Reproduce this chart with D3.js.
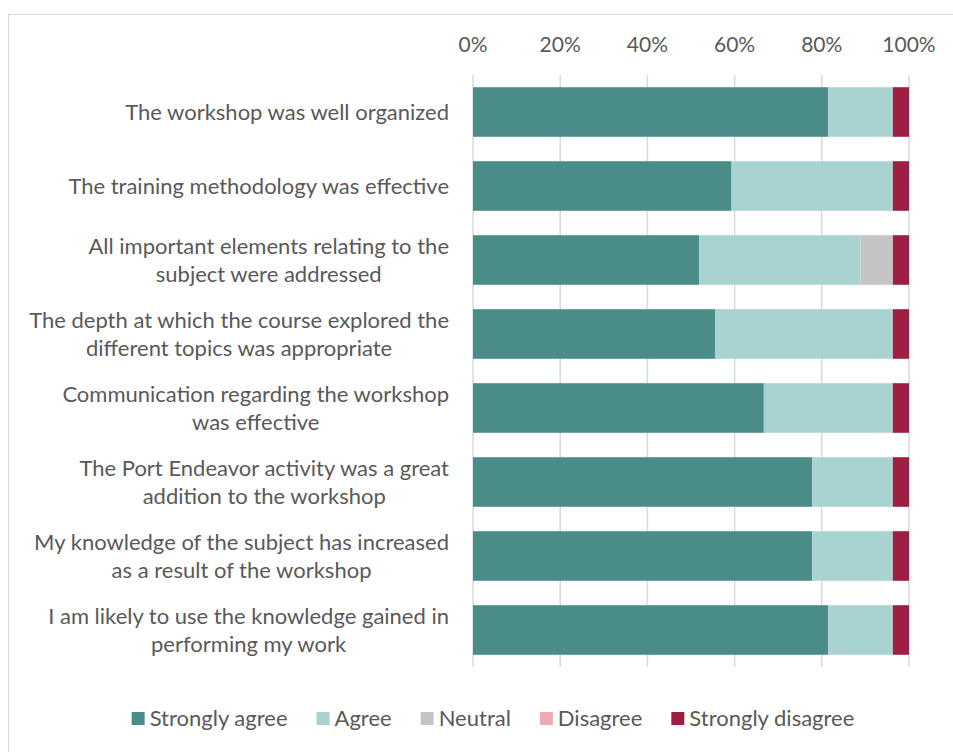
<!DOCTYPE html>
<html>
<head>
<meta charset="utf-8">
<script src="https://cdn.jsdelivr.net/npm/d3@7"></script>
<style>
  body { margin: 0; background: #fff; }
  text { font-family: Lato, "Open Sans", sans-serif; fill: #595959; }
</style>
</head>
<body>
<div id="chart"></div>
<script>
// survey statements (each entry is the lines of one label)
const statements = [
    ["The workshop was well organized"],
    ["The training methodology was effective"],
    ["All important elements relating to the", "subject were addressed"],
    ["The depth at which the course explored the", "different topics was appropriate"],
    ["Communication regarding the workshop", "was effective"],
    ["The Port Endeavor activity was a great", "addition to the workshop"],
    ["My knowledge of the subject has increased", "as a result of the workshop"],
    ["I am likely to use the knowledge gained in", "performing my work"]
];

const responses = ["Strongly agree", "Agree", "Neutral", "Disagree", "Strongly disagree"];
const colors = ["#4a8c88", "#a9d3d1", "#c4c4c4", "#f0aab5", "#9e1f42"];

// percent of respondents per answer, one array per answer
const stronglyAgree    = [81.5, 59.3, 51.9, 55.6, 66.7, 77.8, 77.8, 81.5];
const agree            = [14.8, 37.0, 37.0, 40.7, 29.6, 18.5, 18.5, 14.8];
const neutral          = [0, 0, 7.4, 0, 0, 0, 0, 0];
const disagree         = [0, 0, 0, 0, 0, 0, 0, 0];
const stronglyDisagree = [3.7, 3.7, 3.7, 3.7, 3.7, 3.7, 3.7, 3.7];

const xTicks = [0, 20, 40, 60, 80, 100];

const series = [stronglyAgree, agree, neutral, disagree, stronglyDisagree];
const rows = statements.map((s, i) => {
    const row = { id: i, label: s };
    responses.forEach((r, j) => row[r] = series[j][i]);
    return row;
});

const width = 953, height = 752;
const svg = d3.select("#chart").append("svg")
    .attr("width", width)
    .attr("height", height);

// light frame round the chart
svg.append("rect")
    .attr("x", 8.5).attr("y", 14.5)
    .attr("width", 960).attr("height", 760)
    .attr("fill", "none")
    .attr("stroke", "#d9d9d9");

const x = d3.scaleLinear().domain([0, 100]).range([473, 909]);
const y = d3.scaleBand()
    .domain(rows.map(d => d.id))
    .range([75, 667])
    .paddingInner(0.33)
    .paddingOuter(0.165);

// gridlines
svg.append("g").selectAll("line")
    .data(xTicks)
    .enter().append("line")
    .attr("x1", d => x(d)).attr("x2", d => x(d))
    .attr("y1", 75).attr("y2", 667)
    .attr("stroke", "#d9d9d9")
    .attr("stroke-width", 1.5);

// top axis labels
svg.append("g").selectAll("text")
    .data(xTicks)
    .enter().append("text")
    .attr("x", d => x(d))
    .attr("y", 52)
    .attr("text-anchor", "middle")
    .style("font-size", "21px")
    .text(d => d + "%");

const stack = d3.stack().keys(responses);
const stacked = stack(rows);

svg.append("g").selectAll("g")
    .data(stacked)
    .enter().append("g")
    .attr("fill", (d, i) => colors[i])
    .selectAll("rect")
    .data(d => d)
    .enter().append("rect")
    .attr("x", d => x(d[0]))
    .attr("y", d => y(d.data.id))
    .attr("width", d => x(d[1]) - x(d[0]))
    .attr("height", y.bandwidth());

// category labels, lines centred on each other, block right-aligned
const labelRight = 449, lineGap = 28;
const labels = svg.append("g").selectAll("g")
    .data(rows)
    .enter().append("g");

labels.each(function (d) {
    const g = d3.select(this);
    const n = d.label.length;
    const cy = y(d.id) + y.bandwidth() / 2;
    const texts = g.selectAll("text")
        .data(d.label)
        .enter().append("text")
        .attr("y", (t, k) => cy + (k - (n - 1) / 2) * lineGap)
        .attr("dy", "0.35em")
        .attr("text-anchor", "middle")
        .style("font-size", "22px")
        .text(t => t);
    let maxW = 0;
    texts.each(function () { maxW = Math.max(maxW, this.getComputedTextLength()); });
    texts.attr("x", labelRight - maxW / 2);
});

// legend
const legend = svg.append("g");
let lx = 0;
responses.forEach((r, i) => {
    const item = legend.append("g").attr("transform", `translate(${lx},0)`);
    item.append("rect")
        .attr("x", 0).attr("y", 712)
        .attr("width", 13).attr("height", 13)
        .attr("fill", colors[i]);
    const t = item.append("text")
        .attr("x", 18).attr("y", 726)
        .style("font-size", "22px")
        .text(r);
    lx += 18 + t.node().getComputedTextLength() + 29;
});
lx -= 29;
legend.attr("transform", `translate(${493 - lx / 2},0)`);
</script>
</body>
</html>
